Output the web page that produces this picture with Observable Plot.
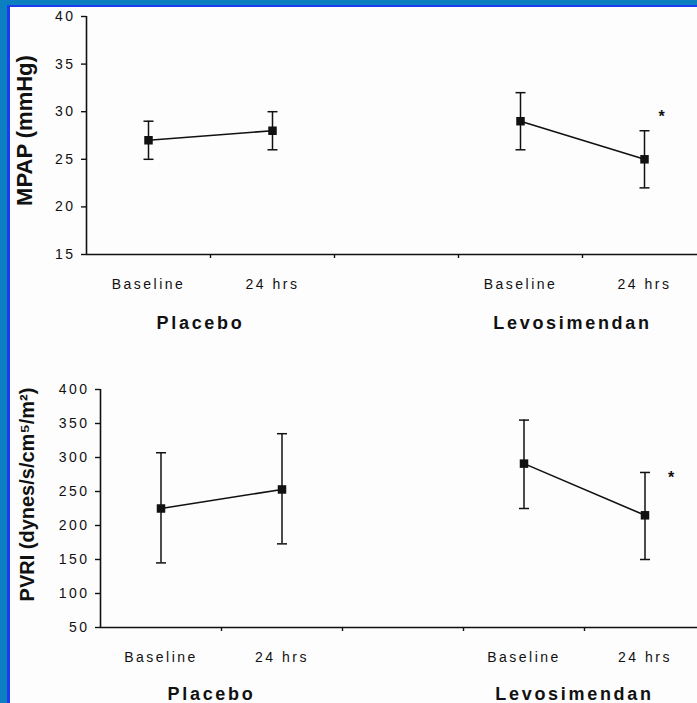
<!DOCTYPE html>
<html><head><meta charset="utf-8">
<script src="https://cdn.jsdelivr.net/npm/d3@7"></script>
<script src="https://cdn.jsdelivr.net/npm/@observablehq/plot@0.6"></script>
<style>
html,body{margin:0;padding:0;background:#fff;overflow:hidden;}
#wrap{position:relative;width:697px;height:703px;overflow:hidden;background:#fdfdfd;font-family:"Liberation Sans",Arial,sans-serif;}
#top,#bottom{position:absolute;left:0;}
#top{top:0}
#bottom{top:345px}
.frame{position:absolute;}
</style></head><body>
<div id="wrap"><div id="top"></div><div id="bottom"></div>
<div class="frame" style="left:0;top:0;width:7px;height:703px;background:#0b7fc0"></div>
<div class="frame" style="left:7px;top:5px;width:3px;height:698px;background:#1a3cf0"></div>
<div class="frame" style="left:0;top:0;width:697px;height:5px;background:#0b7fc0"></div>
<div class="frame" style="left:7px;top:5px;width:690px;height:2px;background:#1a3cf0"></div>
</div>
<script>
// x slots (third slot is an empty spacer between the two groups)
const slotLabels = ["Baseline", "24 hrs", "", "Baseline", "24 hrs"];
const slotGroups = ["Placebo", "Placebo", "", "Levosimendan", "Levosimendan"];
const groups = ["Placebo", "Levosimendan"];
const significance = ["", "", "", "", "*"];

// MPAP (mmHg)
const mpapMean = [27, 28, null, 29, 25];
const mpapLow  = [25, 26, null, 26, 22];
const mpapHigh = [29, 30, null, 32, 28];
const mpapSigY = [null, null, null, null, 30];
const mpapTicks = [15, 20, 25, 30, 35, 40];

// PVRI (dynes/s/cm5/m2)
const pvriMean = [225, 253, null, 291, 215];
const pvriLow  = [145, 173, null, 225, 150];
const pvriHigh = [307, 335, null, 355, 278];
const pvriSigY = [null, null, null, null, 277];
const pvriTicks = [50, 100, 150, 200, 250, 300, 350, 400];

const capSymbol = {draw(ctx, size) { const w = Math.sqrt(size / Math.PI); ctx.moveTo(-w, 0); ctx.lineTo(w, 0); }};
const ink = "#111";

function panel(cfg) {
  const slots = slotLabels.map((label, i) => ({
    x: i + 0.5, label, group: slotGroups[i],
    mean: cfg.mean[i], low: cfg.low[i], high: cfg.high[i],
    sig: significance[i], sigY: cfg.sigY[i]
  }));
  const rows = slots.filter(d => d.mean != null);
  const groupRows = groups.map(g => ({group: g, x: d3.mean(slots.filter(s => s.group === g), s => s.x)}));
  const yMin = cfg.ticks[0];
  return Plot.plot({
    width: cfg.width, height: cfg.height,
    marginLeft: cfg.marginLeft, marginRight: 0, marginTop: cfg.marginTop, marginBottom: cfg.marginBottom,
    x: {domain: [0, slotLabels.length], axis: null},
    y: {domain: [yMin, cfg.ticks[cfg.ticks.length - 1]], axis: null},
    style: {background: "transparent", fontFamily: '"Liberation Sans", Arial, sans-serif', maxWidth: "none", overflow: "visible", color: ink},
    marks: [
      Plot.ruleY([yMin], {stroke: ink, strokeWidth: 1.6}),
      Plot.ruleX([0], {stroke: ink, strokeWidth: 1.6}),
      Plot.axisY({ticks: cfg.ticks, tickSize: 5, tickPadding: 6, fontSize: 14, tickFormat: d => String(d), label: null, stroke: ink, strokeWidth: 1.4, fill: ink}),
      Plot.axisX({ticks: d3.range(1, slotLabels.length + 1), tickSize: 4, tickFormat: () => "", label: null, stroke: ink, strokeWidth: 1.4}),
      Plot.text(slots.filter(s => s.label), {x: "x", y: yMin, text: "label", lineAnchor: "bottom", dy: 34, fontSize: 14, fill: ink}),
      Plot.text(groupRows, {x: "x", y: yMin, text: "group", lineAnchor: "bottom", dy: cfg.groupDy, dx: -10, fontSize: 18, fontWeight: "bold", fill: ink}),
      Plot.text([cfg.title], {text: d => d, frameAnchor: "left", textAnchor: "middle", lineAnchor: "middle", rotate: -90, dx: cfg.titleDx, dy: cfg.titleDy, fontSize: cfg.titleSize, fontWeight: "bold", fill: ink}),
      Plot.ruleX(rows, {x: "x", y1: "low", y2: "high", stroke: ink, strokeWidth: 1.5}),
      Plot.dot(rows, {x: "x", y: "low", symbol: capSymbol, r: 5, fill: "none", stroke: ink, strokeWidth: 1.5}),
      Plot.dot(rows, {x: "x", y: "high", symbol: capSymbol, r: 5, fill: "none", stroke: ink, strokeWidth: 1.5}),
      Plot.line(rows, {x: "x", y: "mean", z: "group", stroke: ink, strokeWidth: 1.6}),
      Plot.dot(rows, {x: "x", y: "mean", symbol: "square", r: 4.8, fill: ink, stroke: "none"}),
      Plot.text(rows.filter(d => d.sig), {x: "x", y: "sigY", text: "sig", dx: cfg.sigDx, dy: 5, fontSize: 16, fontWeight: "bold", fill: ink})
    ]
  });
}

function applySpacing(svg) {
  d3.select(svg).selectAll("text").each(function () {
    const fs = parseFloat(getComputedStyle(this).fontSize);
    if (fs === 14) this.style.letterSpacing = "2.5px";
    else if (fs === 18) this.style.letterSpacing = "2.7px";
  });
}

const topPlot = panel({
  mean: mpapMean, low: mpapLow, high: mpapHigh, sigY: mpapSigY, ticks: mpapTicks,
  width: 706, height: 345, marginLeft: 86, marginTop: 16, marginBottom: 91,
  title: "MPAP (mmHg)", titleDx: -62, titleDy: -5, titleSize: 22, sigDx: 17, groupDy: 74
});
document.getElementById("top").appendChild(topPlot);
applySpacing(topPlot);

const bottomPlot = panel({
  mean: pvriMean, low: pvriLow, high: pvriHigh, sigY: pvriSigY, ticks: pvriTicks,
  width: 705, height: 358, marginLeft: 100, marginTop: 44, marginBottom: 76,
  title: "PVRI (dynes/s/cm⁵/m²)", titleDx: -73, titleDy: -14, titleSize: 20, sigDx: 26, groupDy: 72
});
document.getElementById("bottom").appendChild(bottomPlot);
applySpacing(bottomPlot);
</script>
</body></html>
